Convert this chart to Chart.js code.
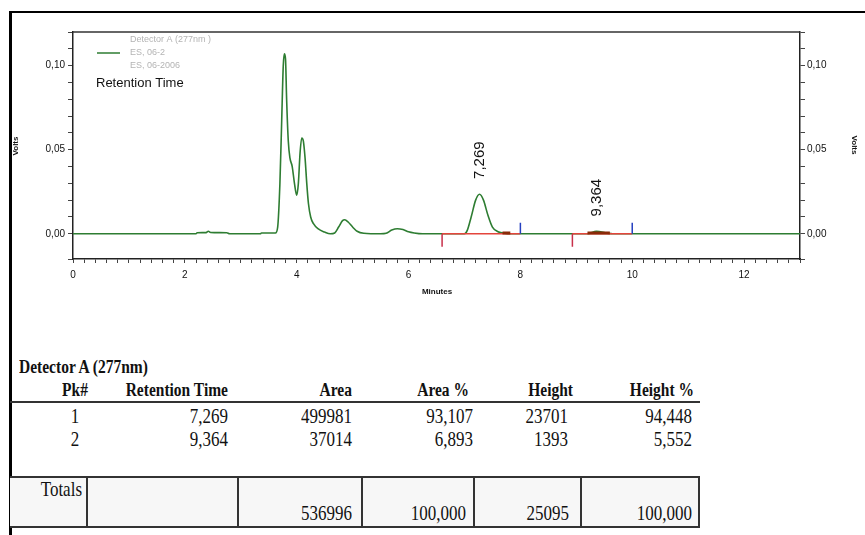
<!DOCTYPE html>
<html>
<head>
<meta charset="utf-8">
<script src="https://cdn.jsdelivr.net/npm/chart.js@4"></script>
<style>
  body { margin: 0; background: #fff; width: 865px; height: 535px; overflow: hidden; position: relative; }
  #chart { position: absolute; left: 0; top: 0; }
  #frameTop { position: absolute; left: 9px; top: 11px; width: 856px; height: 2px; background: #000; }
  #frameLeft { position: absolute; left: 9px; top: 11px; width: 3px; height: 524px; background: #000; }
  .t { position: absolute; font-family: "Liberation Serif", "Times New Roman", serif; color: #111; white-space: nowrap; line-height: 1; transform: scaleY(1.2); }
  .b { font-weight: bold; }
  .hl { position: absolute; background: #333; }
  #totBox { position: absolute; left: 10px; top: 476px; width: 690px; height: 52px; background: #f7f7f7; border: 2px solid #333; border-left: none; box-sizing: border-box; }
</style>
</head>
<body>
<canvas id="chart" width="865" height="310"></canvas>
<div id="frameTop"></div>
<div id="frameLeft"></div>
<div id="table"></div>
<script>
// chromatogram trace (minutes, volts)
const times = [0, 2.2, 2.22, 2.38, 2.42, 2.46, 2.75, 2.8, 3.35, 3.37, 3.62, 3.66, 3.7, 3.73, 3.76, 3.78, 3.8, 3.82, 3.85, 3.88, 3.92, 3.96, 4.0, 4.03, 4.06, 4.09, 4.12, 4.15, 4.18, 4.21, 4.25, 4.3, 4.38, 4.5, 4.6, 4.68, 4.75, 4.82, 4.86, 4.92, 5.0, 5.08, 5.2, 5.5, 5.6, 5.7, 5.8, 5.9, 6.0, 6.1, 6.25, 7.0, 7.05, 7.12, 7.2, 7.27, 7.34, 7.42, 7.5, 7.6, 7.7, 7.8, 9.2, 9.36, 9.55, 9.65, 13];
const volts = [0, 0, 0.0006, 0.0007, 0.0015, 0.0008, 0.0006, 0, 0, 0.0005, 0.0005, 0.004, 0.03, 0.065, 0.1, 0.107, 0.104, 0.08, 0.055, 0.045, 0.04, 0.03, 0.023, 0.03, 0.048, 0.057, 0.055, 0.045, 0.03, 0.018, 0.01, 0.006, 0.003, 0.001, 0, 0.0005, 0.004, 0.0078, 0.0083, 0.007, 0.004, 0.0015, 0.0003, 0, 0.0003, 0.0022, 0.003, 0.0025, 0.0012, 0.0005, 0, 0, 0.002, 0.01, 0.02, 0.0235, 0.02, 0.011, 0.004, 0.0012, 0.0005, 0, 0, 0.0014, 0.0004, 0, 0];

// integration baselines and markers
const baseStarts = [6.6, 8.93];
const baseEnds = [8.0, 10.0];
const startMarkDepth = -0.0077;
const endMarkHeight = 0.0065;
const peakTailStarts = [7.68, 9.2];
const peakTailEnds = [7.82, 9.6];
const peakTailLevel = 0.0005;

// peak table
const peakNums = [1, 2];
const retentionTimes = [7.269, 9.364];
const areas = [499981, 37014];
const areaPct = [93.107, 6.893];
const heights = [23701, 1393];
const heightPct = [94.448, 5.552];
const totalArea = 536996;
const totalAreaPct = 100;
const totalHeight = 25095;
const totalHeightPct = 100;

const xLabelTicks = [0, 2, 4, 6, 8, 10, 12];
const yLabelTicks = [0, 0.05, 0.10];

const comma = (v, d) => v.toFixed(d).replace('.', ',');

function segments(starts, ends, yFrom, yTo) {
  const out = [];
  starts.forEach(function(s, i) {
    out.push({x: s, y: yFrom(i)}, {x: ends[i], y: yTo(i)}, {x: ends[i], y: NaN});
  });
  return out;
}

const trace = times.map((t, i) => ({x: t, y: volts[i]}));
const baseLines = segments(baseStarts, baseEnds, () => 0, () => 0);
const startMarks = segments(baseStarts, baseStarts, () => 0, () => startMarkDepth);
const endMarks = segments(baseEnds, baseEnds, () => 0, () => endMarkHeight);
const tails = segments(peakTailStarts, peakTailEnds, () => peakTailLevel, () => peakTailLevel);

const sans = '"Liberation Sans", Arial, sans-serif';
const tickFont = {family: sans, size: 10};

const decor = {
  id: 'decor',
  afterDraw(chart) {
    const ctx = chart.ctx;
    const a = chart.chartArea;
    const xs = chart.scales.x, ys = chart.scales.y;
    ctx.save();
    // top frame of plot
    ctx.strokeStyle = '#333';
    ctx.lineWidth = 1.5;
    ctx.beginPath();
    ctx.moveTo(a.left, a.top);
    ctx.lineTo(a.right, a.top);
    ctx.stroke();
    // legend
    ctx.strokeStyle = '#2e7d32';
    ctx.lineWidth = 1.5;
    ctx.beginPath();
    ctx.moveTo(97, 53);
    ctx.lineTo(120, 53);
    ctx.stroke();
    ctx.fillStyle = '#b4b4b4';
    ctx.font = '9px ' + sans;
    ctx.textBaseline = 'middle';
    ctx.textAlign = 'left';
    ctx.fillText('Detector A (277nm )', 130, 40);
    ctx.fillText('ES, 06-2', 130, 53);
    ctx.fillText('ES, 06-2006', 130, 66);
    ctx.fillStyle = '#111';
    ctx.font = '13px ' + sans;
    ctx.fillText('Retention Time', 96, 83);
    // axis titles
    ctx.font = 'bold 8px ' + sans;
    ctx.textAlign = 'center';
    ctx.fillText('Minutes', 437, 292);
    ctx.font = 'bold 8px ' + sans;
    [[16, 146, -1], [854, 145, 1]].forEach(function(p) {
      ctx.save();
      ctx.translate(p[0], p[1]);
      ctx.rotate(p[2] * Math.PI / 2);
      ctx.fillText('Volts', 0, 0);
      ctx.restore();
    });
    // peak labels
    ctx.font = '15px ' + sans;
    ctx.textAlign = 'left';
    retentionTimes.forEach(function(rt, i) {
      const x = xs.getPixelForValue(rt);
      const y = ys.getPixelForValue(heights[i] / 1e6) - 15;
      ctx.save();
      ctx.translate(x, y);
      ctx.rotate(-Math.PI / 2);
      ctx.fillText(comma(rt, 3), 0, 0);
      ctx.restore();
    });
    ctx.restore();
  }
};

function yTickLabel(v) {
  const hit = yLabelTicks.find(t => Math.abs(t - v) < 1e-9);
  return hit === undefined ? '' : comma(hit, 2);
}

new Chart(document.getElementById('chart'), {
  type: 'line',
  data: {
    datasets: [
      {data: endMarks, borderColor: '#2540c0', borderWidth: 1.5, pointRadius: 0, spanGaps: false, order: 1},
      {data: startMarks, borderColor: '#c8304a', borderWidth: 1.5, pointRadius: 0, spanGaps: false, order: 1},
      {data: tails, borderColor: '#8a2a08', borderWidth: 3, pointRadius: 0, spanGaps: false, order: 2},
      {data: baseLines, borderColor: '#e4453c', borderWidth: 1.5, pointRadius: 0, spanGaps: false, order: 3},
      {data: trace, borderColor: '#2e7d32', borderWidth: 1.6, pointRadius: 0, cubicInterpolationMode: 'monotone', order: 4}
    ]
  },
  options: {
    responsive: false,
    animation: false,
    layout: {padding: {top: 32, left: 0, right: 0, bottom: 0}},
    plugins: {legend: {display: false}, tooltip: {enabled: false}},
    scales: {
      x: {
        type: 'linear', position: 'bottom', min: 0, max: 13,
        afterFit: s => { s.height = 51; },
        ticks: {
          stepSize: 0.2, autoSkip: false, maxRotation: 0, padding: 6, color: '#111', font: tickFont,
          callback: v => {
            const hit = xLabelTicks.find(t => Math.abs(t - v) < 1e-6);
            return hit === undefined ? '' : String(hit);
          }
        },
        grid: {drawOnChartArea: false, drawTicks: true, tickLength: 4, color: '#444'},
        border: {display: true, color: '#222', width: 1.5}
      },
      y: {
        type: 'linear', position: 'left', min: -0.015, max: 0.12,
        afterFit: s => { s.width = 73; },
        ticks: {stepSize: 0.01, autoSkip: false, padding: 3, color: '#111', font: tickFont, callback: yTickLabel},
        grid: {drawOnChartArea: false, drawTicks: true, tickLength: 5, color: '#444'},
        border: {display: true, color: '#222', width: 1.5}
      },
      y2: {
        type: 'linear', position: 'right', min: -0.015, max: 0.12,
        afterFit: s => { s.width = 65; },
        ticks: {stepSize: 0.01, autoSkip: false, padding: 2, color: '#111', font: tickFont, callback: yTickLabel},
        grid: {drawOnChartArea: false, drawTicks: true, tickLength: 5, color: '#444'},
        border: {display: true, color: '#222', width: 1.5}
      }
    }
  },
  plugins: [decor]
});

// peak table below the chart
const table = document.getElementById('table');
function put(text, x, y, align, bold, size) {
  const d = document.createElement('div');
  d.className = 't' + (bold ? ' b' : '');
  d.textContent = text;
  d.style.fontSize = size + 'px';
  d.style.top = (y - size / 2) + 'px';
  if (align === 'right') d.style.right = (865 - x) + 'px';
  else if (align === 'center') { d.style.left = (x - 40) + 'px'; d.style.width = '80px'; d.style.textAlign = 'center'; }
  else d.style.left = x + 'px';
  table.appendChild(d);
}
function hline(x, y, w, h) {
  const d = document.createElement('div');
  d.className = 'hl';
  d.style.left = x + 'px'; d.style.top = y + 'px'; d.style.width = w + 'px'; d.style.height = h + 'px';
  table.appendChild(d);
}

const box = document.createElement('div');
box.id = 'totBox';
table.appendChild(box);
[86, 237, 361, 473, 580].forEach(x => hline(x, 476, 2, 52));
hline(10, 401, 690, 2);

put('Detector A (277nm)', 19, 367, 'left', true, 15.5);
const colRight = [null, 228, 352, 469, 573, 694];
const headers = ['Pk#', 'Retention Time', 'Area', 'Area %', 'Height', 'Height %'];
put(headers[0], 75, 390, 'center', true, 15.5);
headers.slice(1).forEach((h, i) => put(h, colRight[i + 1], 390, 'right', true, 15.5));

const rowY = [416, 439];
const valRight = [null, 228, 352, 473, 568, 692];
peakNums.forEach(function(p, i) {
  put(String(p), 75, rowY[i], 'center', false, 17);
  put(comma(retentionTimes[i], 3), valRight[1], rowY[i], 'right', false, 17);
  put(String(areas[i]), valRight[2], rowY[i], 'right', false, 17);
  put(comma(areaPct[i], 3), valRight[3], rowY[i], 'right', false, 17);
  put(String(heights[i]), valRight[4], rowY[i], 'right', false, 17);
  put(comma(heightPct[i], 3), valRight[5], rowY[i], 'right', false, 17);
});

put('Totals', 82, 489, 'right', false, 17);
put(String(totalArea), 352, 513, 'right', false, 17);
put(comma(totalAreaPct, 3), 466, 513, 'right', false, 17);
put(String(totalHeight), 569, 513, 'right', false, 17);
put(comma(totalHeightPct, 3), 692, 513, 'right', false, 17);
</script>
</body>
</html>
